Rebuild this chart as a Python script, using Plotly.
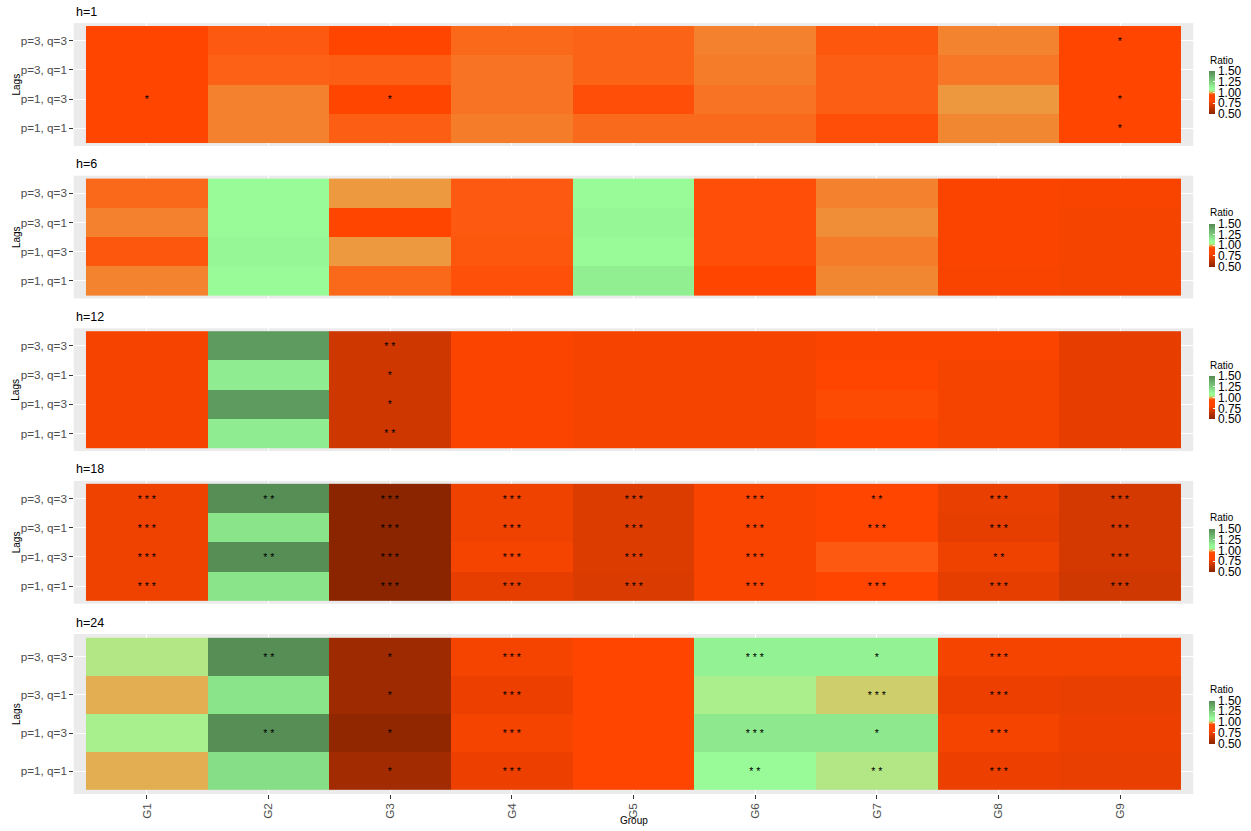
import numpy as np
import plotly.graph_objects as go

# ---------------------------------------------------------------- data
groups = ["G1", "G2", "G3", "G4", "G5", "G6", "G7", "G8", "G9"]
lags = ["p=1, q=1", "p=1, q=3", "p=3, q=1", "p=3, q=3"]   # bottom -> top
horizons = ["h=1", "h=6", "h=12", "h=18", "h=24"]

# forecast-error ratio, one row per lag spec (same order as `lags`)
ratio_h1 = [
    [0.920, 0.975, 0.959, 0.973, 0.964, 0.964, 0.953, 0.978, 0.900],
    [0.890, 0.975, 0.920, 0.968, 0.953, 0.968, 0.959, 0.987, 0.910],
    [0.910, 0.960, 0.959, 0.968, 0.961, 0.973, 0.959, 0.970, 0.930],
    [0.900, 0.957, 0.930, 0.963, 0.961, 0.975, 0.956, 0.976, 0.900],
]
ratio_h6 = [
    [0.976, 1.055, 0.963, 0.954, 1.140, 0.940, 0.978, 0.785, 0.775],
    [0.956, 1.115, 0.988, 0.956, 1.060, 0.953, 0.973, 0.790, 0.775],
    [0.975, 1.055, 0.930, 0.957, 1.115, 0.953, 0.982, 0.790, 0.775],
    [0.963, 1.060, 0.988, 0.957, 1.100, 0.953, 0.975, 0.790, 0.785],
]
ratio_h12 = [
    [0.780, 1.150, 0.678, 0.787, 0.775, 0.775, 0.850, 0.775, 0.740],
    [0.780, 1.440, 0.678, 0.787, 0.775, 0.775, 0.952, 0.775, 0.740],
    [0.780, 1.150, 0.678, 0.787, 0.775, 0.775, 0.810, 0.775, 0.740],
    [0.780, 1.440, 0.678, 0.787, 0.780, 0.780, 0.787, 0.787, 0.740],
]
ratio_h18 = [
    [0.760, 1.180, 0.500, 0.735, 0.705, 0.785, 0.800, 0.735, 0.680],
    [0.760, 1.490, 0.500, 0.775, 0.715, 0.785, 0.957, 0.760, 0.690],
    [0.760, 1.180, 0.500, 0.760, 0.715, 0.785, 0.830, 0.735, 0.690],
    [0.760, 1.490, 0.500, 0.760, 0.715, 0.785, 0.820, 0.745, 0.690],
]
ratio_h24 = [
    [1.000, 1.200, 0.562, 0.755, 0.800, 1.060, 1.037, 0.755, 0.745],
    [1.043, 1.490, 0.515, 0.775, 0.800, 1.160, 1.160, 0.775, 0.755],
    [1.000, 1.180, 0.549, 0.755, 0.800, 1.042, 1.020, 0.755, 0.745],
    [1.037, 1.490, 0.549, 0.775, 0.800, 1.130, 1.130, 0.775, 0.775],
]

# significance codes of the ratio test
sig_h1 = [
    ["", "", "", "", "", "", "", "", "*"],
    ["*", "", "*", "", "", "", "", "", "*"],
    ["", "", "", "", "", "", "", "", ""],
    ["", "", "", "", "", "", "", "", "*"],
]
sig_h6 = [["" for _ in groups] for _ in lags]
sig_h12 = [
    ["", "", "**", "", "", "", "", "", ""],
    ["", "", "*", "", "", "", "", "", ""],
    ["", "", "*", "", "", "", "", "", ""],
    ["", "", "**", "", "", "", "", "", ""],
]
sig_h18 = [
    ["***", "", "***", "***", "***", "***", "***", "***", "***"],
    ["***", "**", "***", "***", "***", "***", "", "**", "***"],
    ["***", "", "***", "***", "***", "***", "***", "***", "***"],
    ["***", "**", "***", "***", "***", "***", "**", "***", "***"],
]
sig_h24 = [
    ["", "", "*", "***", "", "**", "**", "***", ""],
    ["", "**", "*", "***", "", "***", "*", "***", ""],
    ["", "", "*", "***", "", "", "***", "***", ""],
    ["", "**", "*", "***", "", "***", "*", "***", ""],
]

ratios = [ratio_h1, ratio_h6, ratio_h12, ratio_h18, ratio_h24]
sigs = [sig_h1, sig_h6, sig_h12, sig_h18, sig_h24]

# ---------------------------------------------------------------- colour scale
ZMIN, ZMAX = 0.5, 1.5
anchors = [(0.50, "#8B2500"), (0.80, "#FF4500"), (0.95, "#FF4500"),
           (1.05, "#98FB98"), (1.10, "#98FB98"), (1.50, "#548B54")]

WHITE = np.array([0.95047, 1.0, 1.08883])
M = np.array([[0.4124, 0.3576, 0.1805],
              [0.2126, 0.7152, 0.0722],
              [0.0193, 0.1192, 0.9505]])
MINV = np.linalg.inv(M)


def hex_to_lab(h):
    c = np.array([int(h[i:i + 2], 16) / 255 for i in (1, 3, 5)])
    lin = np.where(c <= 0.04045, c / 12.92, ((c + 0.055) / 1.055) ** 2.4)
    xyz = M @ lin / WHITE
    f = np.where(xyz > 0.008856, np.cbrt(xyz), 7.787 * xyz + 16 / 116)
    return np.array([116 * f[1] - 16, 500 * (f[0] - f[1]), 200 * (f[1] - f[2])])


def lab_to_rgb(lab):
    fy = (lab[0] + 16) / 116
    fx = fy + lab[1] / 500
    fz = fy - lab[2] / 200
    f = np.array([fx, fy, fz])
    xyz = np.where(f ** 3 > 0.008856, f ** 3, (f - 16 / 116) / 7.787) * WHITE
    lin = np.clip(MINV @ xyz, 0, 1)
    c = np.where(lin <= 0.0031308, 12.92 * lin, 1.055 * lin ** (1 / 2.4) - 0.055)
    r, g, b = np.clip(np.round(c * 255), 0, 255).astype(int)
    return f"rgb({r},{g},{b})"


colorscale = []
for (v0, c0), (v1, c1) in zip(anchors[:-1], anchors[1:]):
    l0, l1 = hex_to_lab(c0), hex_to_lab(c1)
    for t in np.linspace(0, 1, 16)[:-1]:
        pos = (v0 + t * (v1 - v0) - ZMIN) / (ZMAX - ZMIN)
        colorscale.append([float(pos), lab_to_rgb(l0 + t * (l1 - l0))])
colorscale.append([1.0, lab_to_rgb(hex_to_lab(anchors[-1][1]))])

# ---------------------------------------------------------------- layout geometry
W, H = 1251, 831
FONT = "Liberation Sans, Arial, Helvetica, sans-serif"
x_dom = [73.8 / W, 1193.2 / W]
panels_px = [(23.1, 145.9), (175.7, 298.5), (328.3, 451.1), (480.9, 603.7), (634.0, 794.0)]


def py(px):
    return 1 - px / H


fig = go.Figure()
annotations = []
layout = dict(
    width=W, height=H, margin=dict(l=0, r=0, t=0, b=0),
    paper_bgcolor="white", plot_bgcolor="#EBEBEB",
    font=dict(family=FONT, color="#000000"),
    showlegend=False,
)

for k, (name, z, sg) in enumerate(zip(horizons, ratios, sigs)):
    top, bot = panels_px[k]
    ctr = (top + bot) / 2
    suffix = "" if k == 0 else str(k + 1)
    labels = [[" ".join(s) for s in row] for row in sg]

    fig.add_trace(go.Heatmap(
        x=groups, y=lags, z=z, text=labels, texttemplate="%{text}",
        textfont=dict(family=FONT, size=10.5, color="#000000"),
        zmin=ZMIN, zmax=ZMAX, colorscale=colorscale,
        xaxis="x" + suffix, yaxis="y" + suffix,
        showscale=True,
        colorbar=dict(
            x=1209 / W, xanchor="left", xpad=0,
            y=py(ctr - 13.5), yanchor="top", ypad=0,
            lenmode="pixels", len=43, thickness=6,
            outlinewidth=0,
            tickmode="array", tickvals=[0.5, 0.75, 1.0, 1.25, 1.5],
            ticktext=["0.50", "0.75", "1.00", "1.25", "1.50"],
            ticks="inside", ticklen=2, tickcolor="white", tickwidth=1,
            tickfont=dict(family=FONT, size=12, color="#000000"),
        ),
        hovertemplate="%{x} | %{y}: %{z:.3f}<extra></extra>",
    ))

    last = k == len(horizons) - 1
    layout["xaxis" + suffix] = dict(
        domain=x_dom, anchor="y" + suffix, type="category",
        categoryorder="array", categoryarray=groups,
        range=[-0.6, len(groups) - 0.4],
        showgrid=True, gridcolor="white", gridwidth=1.1, zeroline=False,
        showline=False,
        ticks="outside" if last else "", ticklen=3.5, tickcolor="#333333",
        showticklabels=last, tickangle=-90,
        tickfont=dict(family=FONT, size=11.7, color="#4D4D4D"),
    )
    layout["yaxis" + suffix] = dict(
        domain=[py(bot), py(top)], anchor="x" + suffix, type="category",
        categoryorder="array", categoryarray=lags,
        range=[-0.6, len(lags) - 0.4],
        showgrid=True, gridcolor="white", gridwidth=1.1, zeroline=False,
        showline=False, ticks="outside", ticklen=3.5, tickcolor="#333333",
        tickfont=dict(family=FONT, size=11.7, color="#4D4D4D"),
    )

    # panel title, y-axis title and legend title
    annotations.append(dict(text=name, xref="paper", yref="paper",
                            x=73.8 / W, y=py(top - 11.5), xanchor="left",
                            yanchor="middle", showarrow=False,
                            font=dict(family=FONT, size=12.5, color="#000000")))
    annotations.append(dict(text="Lags", xref="paper", yref="paper",
                            x=16 / W, y=py(ctr), textangle=-90,
                            xanchor="center", yanchor="middle", showarrow=False,
                            font=dict(family=FONT, size=10, color="#000000")))
    annotations.append(dict(text="Ratio", xref="paper", yref="paper",
                            x=1208 / W, y=py(ctr - 24.5), xanchor="left",
                            yanchor="middle", showarrow=False,
                            font=dict(family=FONT, size=10, color="#000000")))

annotations.append(dict(text="Group", xref="paper", yref="paper",
                        x=633.5 / W, y=py(820), xanchor="center",
                        yanchor="middle", showarrow=False,
                        font=dict(family=FONT, size=10, color="#000000")))

layout["annotations"] = annotations
fig.update_layout(**layout)
fig.write_html("out.html")
